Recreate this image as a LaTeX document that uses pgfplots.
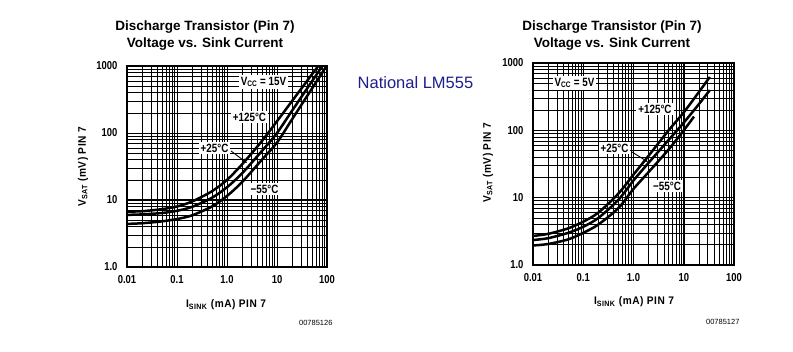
\documentclass[border=0pt]{standalone}
\usepackage{fontspec}
\setmainfont{Liberation Sans}
\usepackage{pgfplots}
\usepackage{pgfplotstable}
\pgfplotsset{compat=1.18}
\usetikzlibrary{arrows.meta}
\definecolor{navy}{RGB}{30,30,140}
\newfontfamily\condfont[FakeStretch=0.82]{Liberation Sans}
\newfontfamily\labfont[FakeStretch=0.92,LetterSpace=5]{Liberation Sans}

\pgfplotstableread{
x y
0.01 6.7
0.02 6.8
0.05 7.3
0.1 8.0
0.2 9.5
0.5 13.5
1 20
2 34
5 76
10 150
20 300
50 750
67 1000
}\LhotT
\pgfplotstableread{
x y
0.01 6.0
0.02 6.1
0.05 6.4
0.1 6.9
0.2 7.9
0.5 10.8
1 15.5
2 25
5 54
10 100
20 215
50 590
81 1000
}\LroomT
\pgfplotstableread{
x y
0.01 4.4
0.02 4.5
0.05 4.8
0.1 5.2
0.2 5.9
0.5 8.0
1 11.5
2 18.5
5 40
10 72
20 160
50 460
98 1000
}\LcoldT
\pgfplotstableread{
x y
0.01 2.7
0.02 2.9
0.05 3.5
0.1 4.4
0.2 6.0
0.5 11.5
1 22
2 42
5 100
10 185
20 370
33 620
}\RhotT
\pgfplotstableread{
x y
0.01 2.35
0.02 2.5
0.05 3.0
0.1 3.7
0.2 5.0
0.5 9.3
1 18
2 33
5 72
10 130
20 245
33 395
}\RroomT
\pgfplotstableread{
x y
0.01 1.95
0.02 2.05
0.05 2.4
0.1 3.0
0.2 4.0
0.5 7.0
1 13.5
2 24
5 52
10 100
16 160
}\RcoldT

\begin{document}
\begin{tikzpicture}
\path (0pt,0pt) rectangle (793pt,351pt);

% ---------- left chart ----------
\begin{loglogaxis}[at={(127pt,84pt)}, anchor=south west, scale only axis, width=200pt, height=201pt,
    xmin=0.01, xmax=100, ymin=1, ymax=1000,
    xtick={0.01,0.1,1,10,100},
    xticklabels={0.01,0.1,1.0,10,100},
    ytick={1,10,100,1000},
    yticklabels={1.0,10,100,1000},
    grid=both,
    major grid style={black,line width=1pt},
    minor grid style={black,line width=0.5pt},
    axis line style={black,line width=1.3pt},
    major tick length=0pt, minor tick length=0pt,
    tick label style={font=\condfont\bfseries\fontsize{11.5}{12}\selectfont},
    xticklabel style={yshift=-5pt},
    yticklabel style={xshift=-6pt}]
\addplot[black,line width=2.5pt,smooth,tension=0.5,mark=none] table {\LhotT};
\addplot[black,line width=2.5pt,smooth,tension=0.5,mark=none] table {\LroomT};
\addplot[black,line width=2.5pt,smooth,tension=0.5,mark=none] table {\LcoldT};
\end{loglogaxis}

% ---------- right chart ----------
\begin{loglogaxis}[at={(533pt,86pt)}, anchor=south west, scale only axis, width=201pt, height=202pt,
    xmin=0.01, xmax=100, ymin=1, ymax=1000,
    xtick={0.01,0.1,1,10,100},
    xticklabels={0.01,0.1,1.0,10,100},
    ytick={1,10,100,1000},
    yticklabels={1.0,10,100,1000},
    grid=both,
    major grid style={black,line width=1pt},
    minor grid style={black,line width=0.5pt},
    axis line style={black,line width=1.3pt},
    major tick length=0pt, minor tick length=0pt,
    tick label style={font=\condfont\bfseries\fontsize{11.5}{12}\selectfont},
    xticklabel style={yshift=-5pt},
    yticklabel style={xshift=-6pt}]
\addplot[black,line width=2.5pt,smooth,tension=0.5,mark=none] table {\RhotT};
\addplot[black,line width=2.5pt,smooth,tension=0.5,mark=none] table {\RroomT};
\addplot[black,line width=2.5pt,smooth,tension=0.5,mark=none] table {\RcoldT};
\end{loglogaxis}

% titles
\node[font=\bfseries\fontsize{13.5}{16.5}\selectfont, align=center] at (205pt,315.5pt)
  {Discharge Transistor (Pin 7)\\Voltage vs. Sink Current};
\node[font=\bfseries\fontsize{13.5}{16.5}\selectfont, align=center] at (612pt,315.5pt)
  {Discharge Transistor (Pin 7)\\Voltage vs. Sink Current};

\node[font=\fontsize{16.5}{18}\selectfont, text=navy] at (415.5pt,268pt) {National LM555};

% axis labels left
\node[font=\labfont\bfseries\fontsize{11}{12}\selectfont, rotate=90] at (83pt,184pt)
  {V\textsubscript{SAT} (mV) PIN 7};
\node[font=\labfont\bfseries\fontsize{11}{12}\selectfont] at (226pt,46pt)
  {I\textsubscript{SINK} (mA) PIN 7};
\node[font=\fontsize{7.5}{8}\selectfont, anchor=east] at (336pt,28pt) {00785126};

% axis labels right
\node[font=\labfont\bfseries\fontsize{11}{12}\selectfont, rotate=90] at (488pt,188pt)
  {V\textsubscript{SAT} (mV) PIN 7};
\node[font=\labfont\bfseries\fontsize{11}{12}\selectfont] at (634pt,49pt)
  {I\textsubscript{SINK} (mA) PIN 7};
\node[font=\fontsize{7.5}{8}\selectfont, anchor=east] at (743pt,29pt) {00785127};

% annotations left
\tikzset{ann/.style={fill=white, inner sep=2pt, font=\condfont\bfseries\fontsize{12}{13}\selectfont}}
\node[ann] at (263.5pt,269pt) {V\textsubscript{CC} = 15V};
\node[ann] at (249.5pt,234pt) {+125\textdegree C};
\node[ann] at (214.5pt,203pt) {+25\textdegree C};
\draw[line width=0.9pt, -{Stealth[length=5pt,width=4pt]}] (231pt,200pt) -- (247pt,188pt);
\node[ann] at (264.5pt,162pt) {\textminus 55\textdegree C};

% annotations right
\node[ann] at (574.5pt,268pt) {V\textsubscript{CC} = 5V};
\node[ann] at (655pt,242pt) {+125\textdegree C};
\node[ann] at (614.5pt,203pt) {+25\textdegree C};
\draw[line width=0.9pt, -{Stealth[length=5pt,width=4pt]}] (632pt,199pt) -- (648pt,189pt);
\node[ann] at (667pt,165pt) {\textminus 55\textdegree C};
\end{tikzpicture}
\end{document}
